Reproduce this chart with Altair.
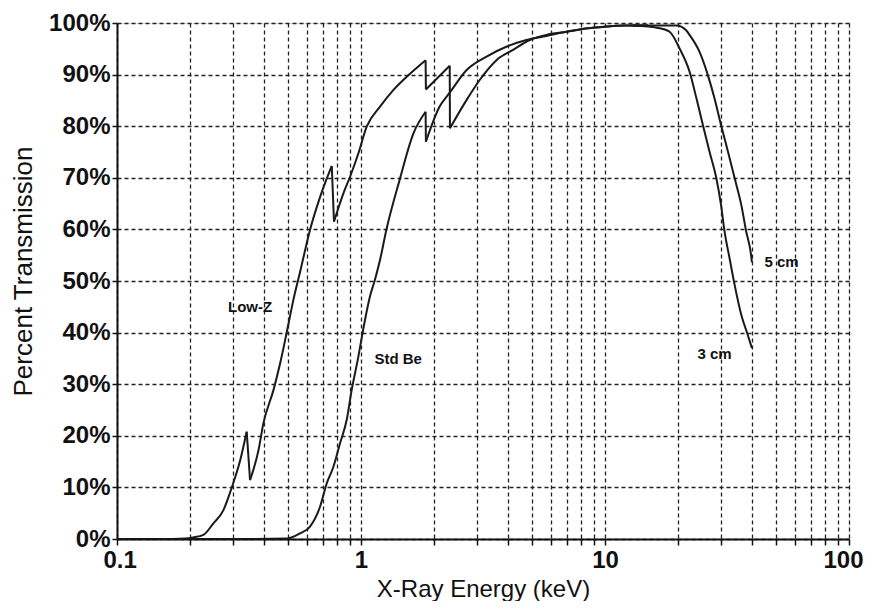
import altair as alt
import pandas as pd

# ---- data ----
lowz_e = [0.1, 0.15, 0.19, 0.205, 0.226, 0.248, 0.273, 0.296, 0.320, 0.340, 0.351,
          0.380, 0.398, 0.438, 0.466, 0.497, 0.528, 0.563, 0.618, 0.680, 0.759, 0.775,
          0.847, 0.902, 0.975, 1.055, 1.197, 1.356, 1.54, 1.84, 1.845, 2.31, 2.315,
          2.71, 3.07, 3.59, 4.20, 4.92, 5.75, 6.95, 8.5, 10, 12, 15]
lowz_t = [0, 0, 0.1, 0.3, 0.8, 3.0, 5.6, 10.1, 15.3, 20.8, 11.4,
          17.2, 22.4, 28.9, 34.0, 40.2, 46.3, 51.8, 59.9, 66.3, 72.3, 61.5,
          67.0, 70.2, 74.7, 79.9, 83.8, 87.0, 89.6, 92.8, 87.1, 91.7, 79.6,
          85.1, 89.0, 92.8, 94.8, 96.7, 97.7, 98.3, 99.0, 99.3, 99.5, 99.5]

stdbe_e = [0.1, 0.3, 0.5, 0.563, 0.618, 0.680, 0.724, 0.771, 0.820, 0.874, 0.916,
           0.975, 1.02, 1.088, 1.14, 1.197, 1.27, 1.44, 1.64, 1.84, 1.845, 2.10,
           2.31, 2.71, 3.27, 3.94, 4.76, 5.75, 6.95, 8.5, 10, 12, 15]
stdbe_t = [0, 0, 0.1, 1.1, 2.4, 6.3, 10.8, 14.0, 18.5, 23.1, 28.9,
           35.3, 40.5, 47.0, 50.2, 54.1, 59.9, 69.6, 78.6, 82.8, 77.0, 83.8,
           86.5, 90.9, 93.5, 95.4, 96.7, 97.5, 98.3, 99.0, 99.3, 99.5, 99.5]

cm3_e = [13, 16.7, 18.4, 20.2, 22.2, 23.7, 25.2, 26.8, 28.6, 29.9, 30.9, 32.4,
         34.0, 36.2, 38.5, 40]
cm3_t = [99.5, 99.0, 98.3, 95.1, 90.6, 85.4, 80.2, 75.1, 69.9, 64.7, 59.6, 54.4,
         49.2, 43.4, 39.5, 37.0]

cm5_e = [13, 19.6, 21.5, 22.2, 24.4, 26.4, 28.1, 29.9, 31.9, 34.0, 36.2, 37.9, 39.7, 40]
cm5_t = [99.5, 99.5, 98.6, 97.7, 94.4, 89.9, 85.4, 80.2, 75.1, 69.9, 64.7, 59.6, 55.0, 53.6]

label_text = ["Low-Z", "Std Be", "5 cm", "3 cm"]
label_e = [0.351, 1.42, 52.9, 28.1]
label_t = [45.0, 34.9, 53.7, 35.9]

x_ticks = [0.1, 0.2, 0.3, 0.4, 0.5, 0.6, 0.7, 0.8, 0.9,
           1, 2, 3, 4, 5, 6, 7, 8, 9,
           10, 20, 30, 40, 50, 60, 70, 80, 90, 100]
y_ticks = [0, 10, 20, 30, 40, 50, 60, 70, 80, 90, 100]

# Split each curve at its absorption edges so smooth parts stay smooth
# and the edge jumps stay straight.
rows = []
seg_id = 0
for name, es, ts in [("Low-Z", lowz_e, lowz_t), ("Std Be", stdbe_e, stdbe_t),
                     ("3 cm", cm3_e, cm3_t), ("5 cm", cm5_e, cm5_t)]:
    seg = [(es[0], ts[0])]
    for k in range(1, len(es)):
        is_edge = es[k] < 10 and ts[k] < ts[k - 1]
        if is_edge:
            # close current smooth segment
            for j, (e, t) in enumerate(seg):
                rows.append({"seg": seg_id, "E": e, "T": t, "i": j})
            seg_id += 1
            # the edge jump itself
            rows.append({"seg": seg_id, "E": es[k - 1], "T": ts[k - 1], "i": 0})
            rows.append({"seg": seg_id, "E": es[k], "T": ts[k], "i": 1})
            seg_id += 1
            seg = [(es[k], ts[k])]
        else:
            seg.append((es[k], ts[k]))
    for j, (e, t) in enumerate(seg):
        rows.append({"seg": seg_id, "E": e, "T": t, "i": j})
    seg_id += 1
df = pd.DataFrame(rows)
labels = pd.DataFrame({"text": label_text, "E": label_e, "T": label_t})

FONT = "Liberation Sans"
xscale = alt.Scale(type="log", domain=[0.1, 100], nice=False)
yscale = alt.Scale(domain=[0, 100], nice=False)

lines = alt.Chart(df).mark_line(color="#1a1a1a", strokeWidth=2, clip=True,
                                interpolate="monotone").encode(
    x=alt.X("E:Q", scale=xscale,
            axis=alt.Axis(values=x_ticks, title="X-Ray Energy (keV)",
                          labelExpr="(datum.value == 0.1 || datum.value == 1 || datum.value == 10 || datum.value == 100) ? format(datum.value, '~g') : ''",
                          grid=True, gridDash=[4, 3], gridColor="#222", gridWidth=1.3,
                          tickSize=6, tickColor="#111", tickWidth=1.5,
                          domainColor="#111", domainWidth=2,
                          labelFont=FONT, labelFontSize=24, labelFontWeight="bold",
                          labelColor="#111", labelPadding=3,
                          labelFlush=True, labelFlushOffset=14,
                          labelOverlap=False,
                          titleFont=FONT, titleFontSize=24, titleFontWeight="normal",
                          titleColor="#111", titleY=57, titleBaseline="alphabetic")),
    y=alt.Y("T:Q", scale=yscale,
            axis=alt.Axis(values=y_ticks, title="Percent Transmission",
                          labelExpr="datum.value + '%'",
                          grid=True, gridDash=[4, 3], gridColor="#222", gridWidth=1.3,
                          tickSize=5, tickColor="#111", tickWidth=1.5,
                          domainColor="#111", domainWidth=2,
                          labelFont=FONT, labelFontSize=24, labelFontWeight="bold",
                          labelColor="#111", labelPadding=2, labelFlush=False,
                          labelOverlap=False,
                          titleFont=FONT, titleFontSize=26, titleFontWeight="normal",
                          titleColor="#111", titleX=-86, titleY=248,
                          titleBaseline="alphabetic", titleAngle=270)),
    detail="seg:N",
    order="i:Q",
)

texts = alt.Chart(labels).mark_text(font=FONT, fontSize=15, fontWeight="bold",
                                    color="#111").encode(
    x=alt.X("E:Q", scale=xscale),
    y=alt.Y("T:Q", scale=yscale),
    text="text:N",
)

chart = alt.layer(lines, texts).properties(
    width=732, height=516,
    autosize=alt.AutoSizeParams(type="none"),
    padding={"left": 109, "top": 15, "right": 14, "bottom": 62},
).configure_view(stroke="#111", strokeWidth=2).configure(background="white")

chart.save("out.html", embed_options={"renderer": "svg", "actions": False})
